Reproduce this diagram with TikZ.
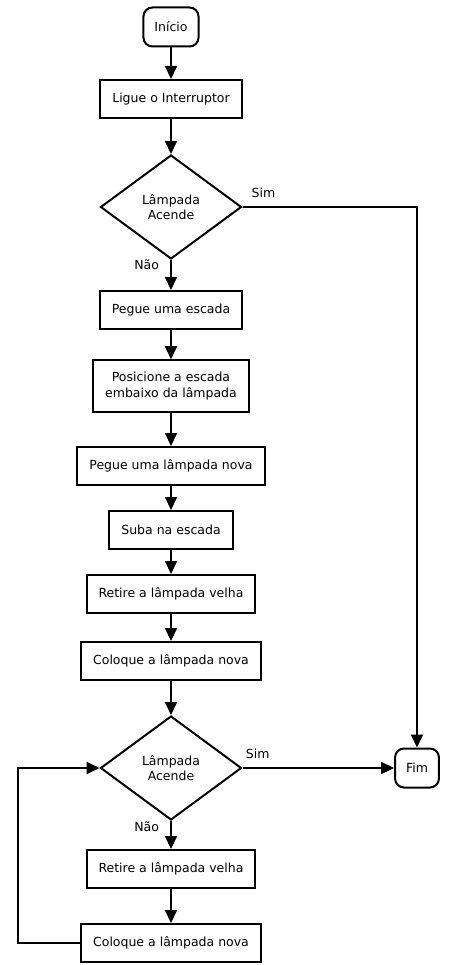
\documentclass[tikz,border=0pt]{standalone}
\usepackage{fontspec}
\setmainfont{DejaVu Sans}
\usetikzlibrary{arrows.meta,positioning,shapes.geometric}

\begin{document}
\begin{tikzpicture}[x=1pt,y=1pt,on grid,font=\fontsize{12.5}{15.5}\selectfont,
  line width=2pt,>={Triangle[length=13pt,width=12pt]}]
  \tikzstyle{passo}=[draw,rectangle,align=center,inner xsep=12pt,inner ysep=12pt,minimum height=38pt]
  \tikzstyle{decisao}=[draw,diamond,align=center,inner sep=0pt,minimum width=141pt,minimum height=104pt]
  \tikzstyle{terminal}=[draw,rectangle,rounded corners=9pt,inner xsep=11pt,minimum width=42pt,minimum height=39pt]
  \tikzstyle{rotulo}=[inner sep=3pt]
  \useasboundingbox (0,0) rectangle (449,-965);

  \node[terminal] (inicio) at (171,-27) {Início};
  \node[passo] (ligue) [below=72pt of inicio] {Ligue o Interruptor};
  \node[decisao] (acende1) [below=108pt of ligue] {Lâmpada\\Acende};
  \node[passo] (escada) [below=103pt of acende1] {Pegue uma escada};
  \node[passo] (posicione) [below=76pt of escada] {Posicione a escada\\embaixo da lâmpada};
  \node[passo] (nova) [below=80pt of posicione] {Pegue uma lâmpada nova};
  \node[passo] (suba) [below=64pt of nova] {Suba na escada};
  \node[passo] (retire1) [below=64pt of suba] {Retire a lâmpada velha};
  \node[passo] (coloque1) [below=67pt of retire1] {Coloque a lâmpada nova};
  \node[decisao] (acende2) [below=107pt of coloque1] {Lâmpada\\Acende};
  \node[passo] (retire2) [below=101pt of acende2] {Retire a lâmpada velha};
  \node[passo] (coloque2) [below=74pt of retire2] {Coloque a lâmpada nova};

  \node[terminal] (fim) [right=246pt of acende2] {Fim};

  \path[->]
  (inicio)    edge (ligue)
  (ligue)     edge (acende1)
  (escada)    edge (posicione)
  (posicione) edge (nova)
  (nova)      edge (suba)
  (suba)      edge (retire1)
  (retire1)   edge (coloque1)
  (coloque1)  edge (acende2)
  (retire2)   edge (coloque2);

  \draw[->] (acende1) -- node[rotulo,pos=0.15,left=8pt] {Não} (escada);
  \draw[->] (acende2) -- node[rotulo,pos=0.22,left=8pt] {Não} (retire2);
  \draw[->] (acende1.east) -| node[rotulo,pos=0.06,above=5pt] {Sim} (fim.north);
  \draw[->] (acende2.east) -- node[rotulo,pos=0.1,above=5pt] {Sim} (fim.west);
  \draw[->] (coloque2.west) -- ++(-62,0) |- (acende2.west);
\end{tikzpicture}
\end{document}
